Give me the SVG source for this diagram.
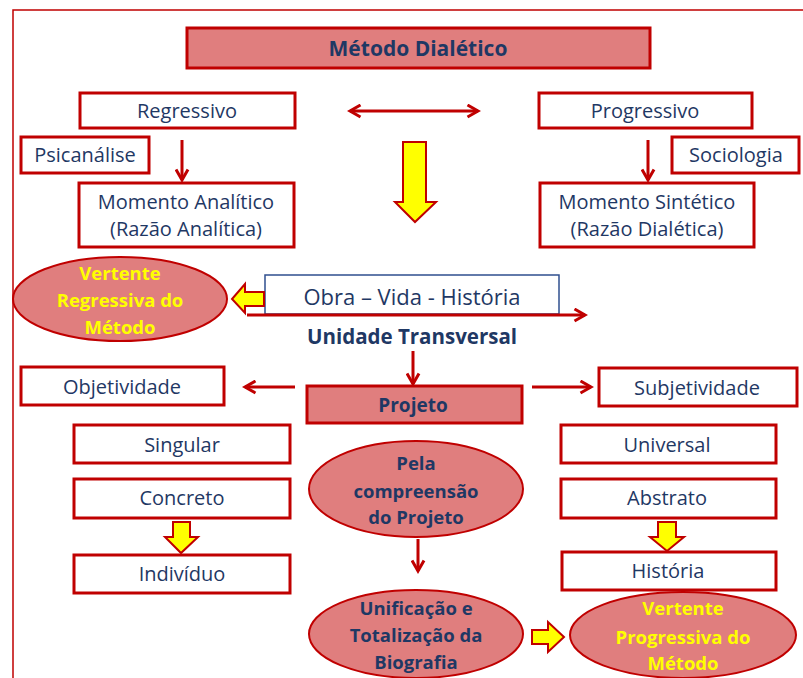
<svg xmlns="http://www.w3.org/2000/svg" width="803" height="678" viewBox="0 0 803 678">
<defs>
<marker id="ah" viewBox="0 0 10 10" refX="8" refY="5" markerWidth="5" markerHeight="5" orient="auto-start-reverse" markerUnits="strokeWidth">
<path d="M1,1 L8,5 L1,9" fill="none" stroke="#C00000" stroke-width="2"/>
</marker>
<style>
.box{fill:#FFFFFF;stroke:#C00000;stroke-width:3}
.pbox{fill:#E07E7E;stroke:#C00000;stroke-width:3}
.ell{fill:#E07E7E;stroke:#C00000;stroke-width:2}
.t{font-family:"Open Sans","Liberation Sans",sans-serif;font-size:20px;fill:#1F3864;text-anchor:middle}
.tb{font-family:"Open Sans","Liberation Sans",sans-serif;font-size:19px;font-weight:bold;fill:#1F3864;text-anchor:middle}
.ty{font-family:"Open Sans","Liberation Sans",sans-serif;font-size:18.5px;font-weight:bold;fill:#FFFF00;text-anchor:middle}
.te{font-family:"Open Sans","Liberation Sans",sans-serif;font-size:18.5px;font-weight:bold;fill:#1F3864;text-anchor:middle}
.ln{fill:none;stroke:#C00000;stroke-width:3;marker-end:url(#ah)}
.ya{fill:#FFFF00;stroke:#C00000;stroke-width:2;stroke-linejoin:miter}
</style>
</defs>
<rect width="803" height="678" fill="#FFFFFF"/>
<path d="M13,678 L13,10 L803,10" fill="none" stroke="#C00000" stroke-width="1.5"/>

<g id="title"><rect class="pbox" x="187" y="28" width="463" height="40"/><text class="tb" x="418" y="56" style="font-size:21px">Método Dialético</text></g>
<g id="regressivo"><rect class="box" x="80" y="93" width="215" height="35"/><text class="t" x="187" y="118">Regressivo</text></g>
<g id="psicanalise"><rect class="box" x="21" y="137" width="128" height="36"/><text class="t" x="85" y="162">Psicanálise</text></g>
<g id="momento-analitico"><rect class="box" x="79" y="183" width="215" height="64"/><text class="t" x="186" y="209">Momento Analítico</text><text class="t" x="186" y="236">(Razão Analítica)</text></g>
<g id="progressivo"><rect class="box" x="539" y="93" width="213" height="35"/><text class="t" x="645" y="118">Progressivo</text></g>
<g id="sociologia"><rect class="box" x="672" y="137" width="127" height="36"/><text class="t" x="736" y="162">Sociologia</text></g>
<g id="momento-sintetico"><rect class="box" x="540" y="183" width="214" height="64"/><text class="t" x="647" y="209">Momento Sintético</text><text class="t" x="647" y="236">(Razão Dialética)</text></g>

<g id="vertente-regressiva"><ellipse class="ell" cx="120" cy="299" rx="107" ry="42"/><text class="ty" x="120" y="280">Vertente</text><text class="ty" x="120" y="307">Regressiva do</text><text class="ty" x="120" y="334">Método</text></g>
<g id="obra"><rect x="265" y="275" width="294" height="39" fill="#FFFFFF" stroke="#2F4F8F" stroke-width="1.5"/><text class="t" x="412" y="305" style="font-size:22px">Obra – Vida - História</text></g>
<g id="unidade"><text class="tb" x="412" y="344" style="font-size:20.5px">Unidade Transversal</text></g>
<g id="projeto"><rect class="pbox" x="307" y="386" width="215" height="37"/><text class="tb" x="413" y="412">Projeto</text></g>
<g id="objetividade"><rect class="box" x="21" y="367" width="203" height="38"/><text class="t" x="122" y="394">Objetividade</text></g>
<g id="subjetividade"><rect class="box" x="599" y="368" width="198" height="38"/><text class="t" x="697" y="395">Subjetividade</text></g>
<g id="singular"><rect class="box" x="74" y="425" width="216" height="38"/><text class="t" x="182" y="452">Singular</text></g>
<g id="concreto"><rect class="box" x="74" y="479" width="216" height="39"/><text class="t" x="182" y="505">Concreto</text></g>
<g id="individuo"><rect class="box" x="74" y="555" width="216" height="38"/><text class="t" x="182" y="581">Indivíduo</text></g>
<g id="universal"><rect class="box" x="561" y="425" width="215" height="38"/><text class="t" x="667" y="452">Universal</text></g>
<g id="abstrato"><rect class="box" x="561" y="479" width="215" height="39"/><text class="t" x="667" y="505">Abstrato</text></g>
<g id="historia"><rect class="box" x="562" y="552" width="214" height="38"/><text class="t" x="668" y="578">História</text></g>
<g id="pela"><ellipse class="ell" cx="416" cy="489" rx="107" ry="48"/><text class="te" x="416" y="470">Pela</text><text class="te" x="416" y="498">compreensão</text><text class="te" x="416" y="524">do Projeto</text></g>
<g id="unificacao"><ellipse class="ell" cx="416" cy="634" rx="107" ry="44"/><text class="te" x="416" y="615">Unificação e</text><text class="te" x="416" y="642">Totalização da</text><text class="te" x="416" y="669">Biografia</text></g>
<g id="vertente-progressiva"><ellipse class="ell" cx="683" cy="635" rx="113" ry="43"/><text class="ty" x="683" y="615">Vertente</text><text class="ty" x="683" y="644">Progressiva do</text><text class="ty" x="683" y="670">Método</text></g>

<g id="connectors">
<line class="ln" x1="182" y1="140" x2="182" y2="180"/>
<line class="ln" x1="648" y1="140" x2="648" y2="180"/>
<line class="ln" x1="350" y1="111" x2="478" y2="111" style="marker-start:url(#ah)"/>
<polygon class="ya" points="403,142 426,142 426,202 436,202 415,222 395,202 403,202"/>
<polygon class="ya" points="264,292 264,306 245,306 245,313 232,299 245,284 245,292"/>
<line class="ln" x1="247" y1="315" x2="585" y2="315"/>
<line class="ln" x1="413" y1="351" x2="413" y2="384"/>
<line class="ln" x1="295" y1="387" x2="245" y2="387"/>
<line class="ln" x1="532" y1="387" x2="591" y2="387"/>
<polygon class="ya" points="173,522 190,522 190,537 198,537 181,553 165,537 173,537"/>
<polygon class="ya" points="658,522 676,522 676,537 684,537 667,551 650,537 658,537"/>
<line class="ln" x1="418" y1="539" x2="418" y2="571"/>
<polygon class="ya" points="532,630 548,630 548,622 564,637 548,652 548,644 532,644"/>
</g>
</svg>
